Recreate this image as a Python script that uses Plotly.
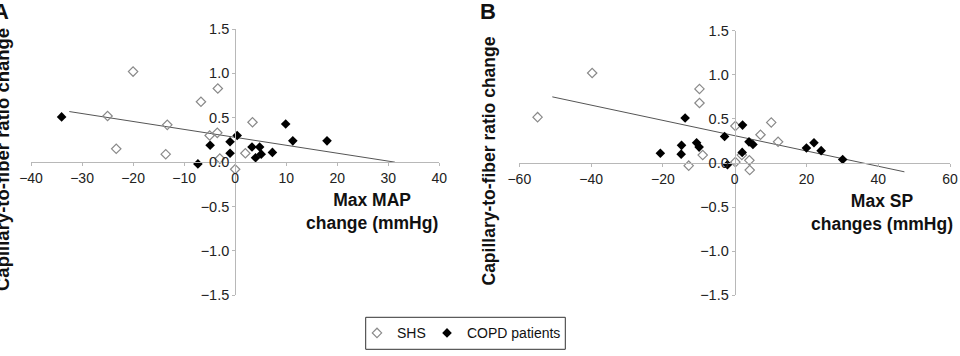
import plotly.graph_objects as go

# ---------------- data ----------------
# Panel A: Max MAP change (mmHg) vs capillary-to-fiber ratio change
shs_a_x = [-20.0, -3.4, -6.7, -25.0, 3.4, -13.3, -3.5, -5.0, -23.3, -13.6, 2.0, -3.0, 0.0]
shs_a_y = [1.02, 0.83, 0.68, 0.52, 0.45, 0.42, 0.33, 0.30, 0.15, 0.09, 0.10, 0.04, -0.08]
copd_a_x = [-34.0, 9.9, 11.3, 18.0, 0.4, -1.0, -4.9, -1.0, -7.3, 3.3, 4.8, 4.0, 5.1, 7.3]
copd_a_y = [0.51, 0.43, 0.24, 0.24, 0.30, 0.23, 0.19, 0.10, -0.02, 0.17, 0.17, 0.05, 0.09, 0.11]
trend_a_x = [-32.5, 31.3]
trend_a_y = [0.57, 0.0]

# Panel B: Max SP changes (mmHg) vs capillary-to-fiber ratio change
shs_b_x = [-54.9, -39.7, -9.8, -9.8, 0.2, 10.2, 7.2, 12.1, -8.9, -12.8, 2.0, 0.2, 4.1, 4.2]
shs_b_y = [0.52, 1.02, 0.84, 0.68, 0.42, 0.46, 0.32, 0.24, 0.09, -0.03, 0.09, 0.01, 0.03, -0.08]
copd_b_x = [-13.8, 2.2, -2.8, -20.7, -14.8, -14.9, -10.6, -9.9, -2.0, 2.1, 4.0, 5.1, 20.0, 22.1, 24.1, 30.1]
copd_b_y = [0.51, 0.43, 0.30, 0.11, 0.20, 0.10, 0.23, 0.18, -0.02, 0.12, 0.24, 0.21, 0.17, 0.23, 0.14, 0.04]
trend_b_x = [-50.8, 47.3]
trend_b_y = [0.75, -0.10]

x_ticks_a = [-40, -30, -20, -10, 0, 10, 20, 30, 40]
x_ticks_b = [-60, -40, -20, 0, 20, 40, 60]
y_ticks = [-1.5, -1.0, -0.5, 0.0, 0.5, 1.0, 1.5]

# ---------------- layout geometry ----------------
W, H = 960, 356
FONT = "Liberation Sans, Arial, sans-serif"
AXIS_GRAY = "#b8b8b8"
XTICK_FONT = dict(family=FONT, size=14, color="#222222")
YTICK_FONT = dict(family=FONT, size=14.5, color="#222222")

xa_dom = [31 / W, 439.3 / W]
xb_dom = [519.3 / W, 950 / W]
ya_dom = [1 - 295.3 / H, 1 - 29 / H]
yb_dom = [1 - 295.3 / H, 1 - 30.7 / H]
xa_rng, xb_rng, y_rng = [-40, 40], [-60, 60], [-1.5, 1.5]


def zero_pos(dom, rng):
    return dom[0] + (0 - rng[0]) / (rng[1] - rng[0]) * (dom[1] - dom[0])


fig = go.Figure()

open_marker = dict(symbol="diamond-open", size=7.2, color="#8a8a8a", line=dict(width=1.2, color="#8a8a8a"))
fill_marker = dict(symbol="diamond", size=7.4, color="#000000", line=dict(width=0))

# Panel A
fig.add_trace(go.Scatter(x=trend_a_x, y=trend_a_y, mode="lines", line=dict(color="#555555", width=1),
                         showlegend=False, hoverinfo="skip", xaxis="x", yaxis="y"))
fig.add_trace(go.Scatter(x=shs_a_x, y=shs_a_y, mode="markers", marker=open_marker, name="SHS",
                         legend="legend", xaxis="x", yaxis="y"))
fig.add_trace(go.Scatter(x=copd_a_x, y=copd_a_y, mode="markers", marker=fill_marker, name="COPD patients",
                         legend="legend2", xaxis="x", yaxis="y"))
# Panel B
fig.add_trace(go.Scatter(x=trend_b_x, y=trend_b_y, mode="lines", line=dict(color="#555555", width=1),
                         showlegend=False, hoverinfo="skip", xaxis="x2", yaxis="y2"))
fig.add_trace(go.Scatter(x=shs_b_x, y=shs_b_y, mode="markers", marker=open_marker, name="SHS",
                         showlegend=False, xaxis="x2", yaxis="y2"))
fig.add_trace(go.Scatter(x=copd_b_x, y=copd_b_y, mode="markers", marker=fill_marker, name="COPD patients",
                         showlegend=False, xaxis="x2", yaxis="y2"))

axis_common = dict(showgrid=False, zeroline=False, showline=True, linecolor=AXIS_GRAY, linewidth=1,
                   ticks="outside", ticklen=3, tickcolor=AXIS_GRAY, tickwidth=1,
                   anchor="free", automargin=False)

legend_font = dict(family=FONT, size=14, color="#111111")
legend_common = dict(orientation="h", xanchor="left", yanchor="middle", borderwidth=0,
                     bgcolor="rgba(0,0,0,0)", font=legend_font, indentation=-5)

fig.update_layout(
    width=W, height=H,
    margin=dict(l=0, r=0, t=0, b=0, autoexpand=False),
    paper_bgcolor="white", plot_bgcolor="white",
    xaxis=dict(domain=xa_dom, range=xa_rng, tickvals=x_ticks_a, tickfont=XTICK_FONT,
               position=zero_pos(ya_dom, y_rng), **axis_common),
    yaxis=dict(domain=ya_dom, range=y_rng, tickvals=y_ticks, tickformat=".1f", tickfont=YTICK_FONT,
               position=zero_pos(xa_dom, xa_rng), **axis_common),
    xaxis2=dict(domain=xb_dom, range=xb_rng, tickvals=x_ticks_b, tickfont=XTICK_FONT,
                position=zero_pos(yb_dom, y_rng), **axis_common),
    yaxis2=dict(domain=yb_dom, range=y_rng, tickvals=y_ticks, tickformat=".1f", tickfont=YTICK_FONT,
                position=zero_pos(xb_dom, xb_rng), **axis_common),
    legend=dict(x=362 / W, y=1 - 333.3 / H, **legend_common),
    legend2=dict(x=432 / W, y=1 - 333.3 / H, **legend_common),
    showlegend=True,
    shapes=[dict(type="rect", xref="paper", yref="paper",
                 x0=365.7 / W, x1=565.3 / W, y0=1 - 349.3 / H, y1=1 - 317.3 / H,
                 line=dict(color="#333333", width=1), fillcolor="rgba(0,0,0,0)", layer="below")],
)

title_font = dict(family=FONT, size=17.5, color="#111111")
annotations = [
    dict(text="<b>Max MAP<br>change (mmHg)</b>", x=371.5 / W, y=1 - 211.5 / H, xref="paper", yref="paper",
         showarrow=False, font=title_font, xanchor="center", yanchor="middle", align="center"),
    dict(text="<b>Max SP<br>changes (mmHg)</b>", x=882 / W, y=1 - 212.5 / H, xref="paper", yref="paper",
         showarrow=False, font=title_font, xanchor="center", yanchor="middle", align="center"),
    dict(text="<b>Capillary-to-fiber ratio change</b>", x=2 / W, y=1 - 160 / H, xref="paper", yref="paper",
         showarrow=False, font=dict(family=FONT, size=18.5, color="#111111"), textangle=-90,
         xanchor="center", yanchor="middle"),
    dict(text="<b>Capillary-to-fiber ratio change</b>", x=488.5 / W, y=1 - 161 / H, xref="paper", yref="paper",
         showarrow=False, font=title_font, textangle=-90, xanchor="center", yanchor="middle"),
    dict(text="<b>A</b>", x=-9 / W, y=1 - 11 / H, xref="paper", yref="paper", showarrow=False,
         font=dict(family=FONT, size=22, color="#111111"), xanchor="left", yanchor="middle"),
    dict(text="<b>B</b>", x=478 / W, y=1 - 11 / H, xref="paper", yref="paper", showarrow=False,
         font=dict(family=FONT, size=22, color="#111111"), xanchor="left", yanchor="middle"),
]
fig.update_layout(annotations=annotations)

fig.write_html("out.html")
